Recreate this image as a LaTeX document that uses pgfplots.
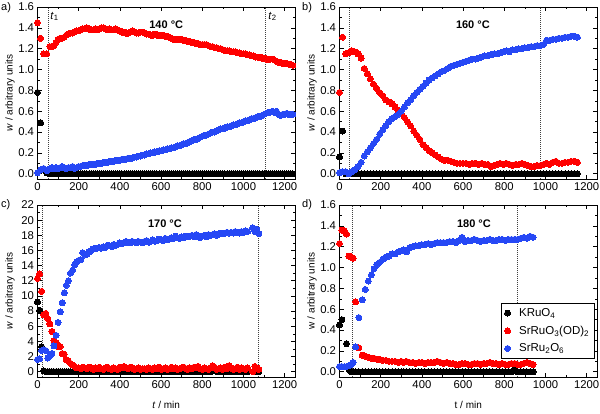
\documentclass[border=0pt]{standalone}
\usepackage{pgfplots}
\pgfplotsset{compat=1.18}
\usepackage{pgfplotstable}
\usepackage{fontspec}
\setmainfont{Liberation Sans}
\definecolor{myred}{RGB}{255,0,0}
\definecolor{myblue}{RGB}{38,72,245}

\pgfplotstableread{
t k r b
0 0.78 1.45 0.01
15 0.49 1.30 0.04
30 0.05 1.15 0.05
45 0.01 1.15 0.03
60 0.00 1.22 0.05
70 0.00 1.22 0.06
80 0.00 1.23 0.05
90 0.00 1.26 0.06
100 0.00 1.29 0.05
110 0.00 1.30 0.06
120 0.00 1.30 0.07
130 0.00 1.31 0.06
140 0.00 1.33 0.05
150 0.00 1.34 0.06
160 0.00 1.35 0.06
170 0.00 1.35 0.07
180 0.00 1.36 0.05
190 0.00 1.37 0.06
200 0.00 1.37 0.07
210 0.00 1.38 0.07
220 0.00 1.39 0.08
230 0.00 1.39 0.08
240 0.00 1.40 0.08
250 0.00 1.39 0.09
260 0.00 1.38 0.09
270 0.00 1.38 0.09
280 0.00 1.39 0.09
290 0.00 1.38 0.10
300 0.00 1.39 0.10
310 0.00 1.40 0.10
320 0.00 1.40 0.11
330 0.00 1.39 0.11
340 0.00 1.38 0.11
350 0.00 1.39 0.12
360 0.00 1.38 0.12
370 0.00 1.38 0.12
380 0.00 1.39 0.13
390 0.00 1.38 0.13
400 0.00 1.37 0.13
410 0.00 1.36 0.14
420 0.00 1.36 0.14
430 0.00 1.35 0.14
440 0.00 1.35 0.15
450 0.00 1.36 0.15
460 0.00 1.37 0.15
470 0.00 1.36 0.16
480 0.00 1.35 0.16
490 0.00 1.35 0.17
500 0.00 1.36 0.17
510 0.00 1.36 0.18
520 0.00 1.35 0.18
530 0.00 1.34 0.19
540 0.00 1.34 0.19
550 0.00 1.33 0.20
560 0.00 1.33 0.20
570 0.00 1.34 0.21
580 0.00 1.33 0.21
590 0.00 1.33 0.22
600 0.00 1.33 0.22
610 0.00 1.33 0.23
620 0.00 1.32 0.23
630 0.00 1.32 0.24
640 0.00 1.31 0.24
650 0.00 1.30 0.25
660 0.00 1.29 0.25
670 0.00 1.29 0.26
680 0.00 1.29 0.27
690 0.00 1.29 0.27
700 0.00 1.29 0.28
710 0.00 1.28 0.29
720 0.00 1.28 0.29
730 0.00 1.27 0.30
740 0.00 1.27 0.31
750 0.00 1.26 0.32
760 0.00 1.26 0.33
770 0.00 1.25 0.33
780 0.00 1.25 0.34
790 0.00 1.24 0.35
800 0.00 1.24 0.36
810 0.00 1.24 0.37
820 0.00 1.24 0.37
830 0.00 1.23 0.38
840 0.00 1.22 0.39
850 0.00 1.22 0.40
860 0.00 1.21 0.40
870 0.00 1.21 0.41
880 0.00 1.20 0.42
890 0.00 1.20 0.43
900 0.00 1.19 0.43
910 0.00 1.18 0.44
920 0.00 1.18 0.45
930 0.00 1.18 0.45
940 0.00 1.17 0.46
950 0.00 1.17 0.47
960 0.00 1.17 0.47
970 0.00 1.16 0.48
980 0.00 1.16 0.49
990 0.00 1.15 0.49
1000 0.00 1.15 0.50
1010 0.00 1.15 0.51
1020 0.00 1.14 0.51
1030 0.00 1.14 0.52
1040 0.00 1.13 0.53
1050 0.00 1.13 0.53
1060 0.00 1.12 0.54
1070 0.00 1.12 0.55
1080 0.00 1.12 0.55
1090 0.00 1.11 0.56
1100 0.00 1.11 0.57
1110 0.00 1.10 0.58
1120 0.00 1.10 0.59
1130 0.00 1.10 0.59
1140 0.00 1.10 0.60
1150 0.00 1.09 0.59
1160 0.00 1.08 0.60
1170 0.00 1.07 0.57
1180 0.00 1.07 0.56
1190 0.00 1.06 0.57
1200 0.00 1.06 0.57
1210 0.00 1.06 0.58
1220 0.00 1.05 0.57
1230 0.00 1.05 0.57
1240 0.00 1.04 0.57
}\tA

\pgfplotstableread{
t k r b
0 0.16 0.78 0.01
15 0.41 1.31 0.02
30 0.00 1.15 0.02
45 0.00 1.16 0.00
60 0.00 1.18 0.02
75 0.00 1.17 0.04
90 0.00 1.15 0.07
105 0.00 1.11 0.11
120 0.00 1.01 0.17
135 0.00 0.96 0.21
150 0.00 0.91 0.25
165 0.00 0.86 0.29
180 0.00 0.82 0.33
195 0.00 0.78 0.38
210 0.00 0.75 0.42
225 0.00 0.71 0.46
240 0.00 0.69 0.50
255 0.00 0.67 0.53
270 0.00 0.64 0.55
285 0.00 0.61 0.57
300 0.00 0.58 0.60
315 0.00 0.54 0.64
330 0.00 0.50 0.68
345 0.00 0.46 0.71
360 0.00 0.41 0.75
375 0.00 0.37 0.78
390 0.00 0.33 0.81
405 0.00 0.28 0.84
420 0.00 0.25 0.87
435 0.00 0.22 0.90
450 0.00 0.20 0.92
465 0.00 0.18 0.94
480 0.00 0.16 0.96
495 0.00 0.14 0.98
510 0.00 0.13 0.99
525 0.00 0.13 1.01
540 0.00 0.12 1.03
555 0.00 0.11 1.04
570 0.00 0.10 1.05
585 0.00 0.10 1.06
600 0.00 0.10 1.07
615 0.00 0.10 1.08
630 0.00 0.09 1.09
645 0.00 0.10 1.10
660 0.00 0.10 1.10
675 0.00 0.09 1.11
690 0.00 0.10 1.12
705 0.00 0.09 1.13
720 0.00 0.09 1.13
735 0.00 0.07 1.14
750 0.00 0.08 1.15
765 0.00 0.09 1.15
780 0.00 0.10 1.16
795 0.00 0.09 1.17
810 0.00 0.10 1.18
825 0.00 0.09 1.17
840 0.00 0.08 1.19
855 0.00 0.09 1.19
870 0.00 0.09 1.20
885 0.00 0.10 1.20
900 0.00 0.09 1.21
915 0.00 0.08 1.21
930 0.00 0.07 1.22
945 0.00 0.07 1.22
960 0.00 0.08 1.23
975 0.00 0.08 1.23
990 0.00 0.09 1.24
1005 0.00 0.10 1.28
1020 0.00 0.09 1.28
1035 0.00 0.11 1.29
1050 0.00 0.12 1.29
1065 0.00 0.10 1.30
1080 0.00 0.10 1.30
1095 0.00 0.11 1.31
1110 0.00 0.11 1.31
1125 0.00 0.12 1.32
1140 0.00 0.12 1.32
1155 0.00 0.11 1.31
}\tB

\pgfplotstableread{
t k r b
0 9.2 12.3 1.6
10 8.1 12.9 1.7
20 3.3 10.6 2.8
30 0.1 7.5 2.9
40 0.0 7.7 2.8
50 0.0 7.0 1.8
60 0.0 6.3 2.1
70 0.0 5.3 2.4
80 0.0 4.1 3.4
90 0.0 3.8 4.8
100 0.0 3.3 6.5
110 0.0 3.3 7.9
120 0.0 2.4 9.1
130 0.0 2.3 10.4
140 0.0 1.6 11.4
150 0.0 1.4 12.0
160 0.0 1.1 13.0
170 0.0 0.9 13.4
180 0.0 0.7 14.1
190 0.0 0.5 14.5
200 0.0 0.5 14.7
210 0.0 0.4 14.8
220 0.0 0.6 15.7
230 0.0 0.5 15.4
240 0.0 0.4 15.5
250 0.0 0.6 15.8
260 0.0 0.5 16.0
270 0.0 0.3 16.2
280 0.0 0.5 16.3
290 0.0 0.4 16.3
300 0.0 0.6 16.4
310 0.0 0.4 16.3
320 0.0 0.3 16.5
330 0.0 0.5 16.4
340 0.0 0.6 16.7
350 0.0 0.4 16.6
360 0.0 0.3 16.5
370 0.0 0.5 16.8
380 0.0 0.4 16.7
390 0.0 0.3 16.8
400 0.1 0.6 17.0
410 0.0 0.5 16.9
420 0.0 0.7 17.0
430 0.0 0.5 17.2
440 0.0 0.4 17.1
450 0.1 0.6 17.0
460 0.0 0.5 17.2
470 0.0 0.3 17.1
480 0.0 0.4 17.0
490 0.0 0.5 17.2
500 0.0 0.3 17.1
510 0.0 0.4 17.0
520 0.0 0.4 17.2
530 0.0 0.3 17.3
540 0.0 0.5 17.1
550 0.0 0.4 17.2
560 0.0 0.3 17.4
570 0.0 0.5 17.2
580 0.0 0.4 17.3
590 0.0 0.6 17.5
600 0.0 0.3 17.4
610 0.0 0.4 17.3
620 0.0 0.5 17.6
630 0.0 0.3 17.4
640 0.0 0.4 17.5
650 0.0 0.6 17.7
660 0.0 0.4 17.6
670 0.0 0.5 17.9
680 0.0 0.3 17.7
690 0.0 0.4 17.6
700 0.0 0.5 17.8
710 0.0 0.6 17.7
720 0.0 0.4 17.9
730 0.0 0.3 17.8
740 0.0 0.5 17.9
750 0.0 0.4 18.0
760 0.0 0.6 17.8
770 0.0 0.5 18.1
780 0.1 0.7 17.9
790 0.0 0.4 17.7
800 0.0 0.3 17.9
810 0.0 0.5 18.0
820 0.0 0.4 17.8
830 0.0 0.3 18.1
840 0.0 0.5 18.0
850 0.1 0.8 18.1
860 0.2 0.6 18.2
870 0.0 0.3 18.0
880 0.0 0.4 18.2
890 0.0 0.5 18.3
900 0.0 0.3 18.2
910 0.0 0.6 18.3
920 0.0 0.4 18.4
930 0.0 0.8 18.3
940 0.0 0.5 18.4
950 0.0 0.3 18.3
960 0.0 0.4 18.5
970 0.0 0.6 18.4
980 0.0 0.3 18.3
990 0.0 0.5 18.5
1000 0.0 0.4 18.4
1010 0.0 0.3 18.6
1020 0.0 0.5 18.5
1045 0.0 0.0 19.0
1055 0.0 0.7 18.5
1065 0.0 0.5 18.8
1075 0.0 0.3 18.2
}\tC

\pgfplotstableread{
t k r b
0 0.45 1.23 0.05
12 0.50 1.36 0.05
24 nan 1.35 0.05
34 0.27 1.32 0.05
46 0.02 1.11 0.06
56 0.00 1.10 0.07
66 0.00 1.09 0.09
78 0.00 0.67 0.24
94 0.00 0.23 0.52
110 0.00 0.16 0.69
125 0.00 0.15 0.79
140 0.00 0.14 0.87
155 0.00 0.13 0.93
168 0.00 0.13 0.99
182 0.00 0.12 1.03
195 0.00 0.12 1.05
210 0.00 0.11 1.08
225 0.00 0.11 1.10
240 0.00 0.10 1.11
255 0.00 0.10 1.13
270 0.00 0.10 1.13
285 0.00 0.09 1.15
300 0.00 0.10 1.16
312 0.00 0.09 1.17
325 0.00 0.10 1.15
340 0.00 0.09 1.19
355 0.00 0.09 1.20
370 0.00 0.08 1.21
385 0.00 0.09 1.21
400 0.00 0.09 1.22
415 0.00 0.08 1.22
430 0.00 0.09 1.23
445 0.00 0.09 1.22
460 0.00 0.09 1.23
475 0.00 0.10 1.24
490 0.00 0.09 1.24
505 0.00 0.08 1.24
520 0.00 0.09 1.24
535 0.00 0.08 1.25
550 0.00 0.08 1.25
565 0.00 0.07 1.24
580 0.00 0.07 1.26
595 0.00 0.08 1.29
610 0.00 0.08 1.25
625 0.00 0.07 1.26
640 0.00 0.07 1.26
655 0.00 0.08 1.27
670 0.00 0.08 1.26
685 0.00 0.07 1.25
700 0.00 0.08 1.26
715 0.00 0.08 1.26
730 0.00 0.09 1.27
745 0.00 0.08 1.26
760 0.00 0.08 1.26
775 0.00 0.07 1.27
790 0.00 0.08 1.27
805 0.00 0.07 1.26
820 0.00 0.07 1.27
835 0.00 0.08 1.27
850 0.02 0.08 1.27
865 0.00 0.07 1.27
880 0.00 0.07 1.28
895 0.00 0.08 1.29
910 0.00 0.09 1.28
925 0.00 0.08 1.30
940 0.00 0.07 1.29
}\tD

\pgfplotsset{
  panel/.style={
    scale only axis, width=257.5pt, height=172pt,
    xmin=0, xmax=1250,
    xtick={0,200,400,600,800,1000,1200},
    minor x tick num=1,
    tick align=inside, xtick pos=both, ytick pos=both,
    major tick length=4pt, minor tick length=2.2pt,
    every tick/.style={black, line width=0.6pt},
    axis line style={line width=0.8pt},
    tick label style={font=\fontsize{11.3}{13}\selectfont},
    label style={font=\fontsize{11.5}{13}\selectfont},
    /pgf/number format/assume math mode=true,
    /pgf/number format/1000 sep={},
    every axis y label/.style={at={(axis description cs:-0.107,0.5)}, rotate=90, anchor=center},
    every axis x label/.style={at={(axis description cs:0.5,-0.163)}, anchor=center},
    ylabel={\textit{w} / arbitrary units},
    clip=true,
  },
  small/.style={
    ymin=-0.05, ymax=1.6,
    ytick={0,0.2,0.4,0.6,0.8,1.0,1.2,1.4,1.6},
    minor y tick num=1,
    yticklabel style={/pgf/number format/.cd, fixed, fixed zerofill, precision=1},
  },
  dotleg/.style={legend image code/.code={\path[draw=none,fill=none] (0pt,-3pt) rectangle (13pt,3pt); \draw[##1] plot coordinates {(3.5pt,0pt)};}},
  kser/.style={only marks, mark=*, mark size=3pt, color=black, mark options={fill=black, draw=black, line width=0pt}, dotleg},
  rser/.style={only marks, mark=*, mark size=3pt, color=myred, mark options={fill=myred, draw=myred, line width=0pt}, dotleg},
  bser/.style={only marks, mark=*, mark size=3pt, color=myblue, mark options={fill=myblue, draw=myblue, line width=0pt}, dotleg},
  vline/.style={black!75, line width=0.6pt, dash pattern=on 0.7pt off 1.3pt, forget plot},
}

\begin{document}
\begin{tikzpicture}[x=1pt,y=1pt]
\path[use as bounding box] (0,0) rectangle (600,413);

% a
\begin{axis}[panel, small, at={(37.5pt,234pt)}, anchor=south west]
\addplot[vline] coordinates {(50,-0.05) (50,1.6)};
\addplot[vline] coordinates {(1106,-0.05) (1106,1.6)};
\addplot[kser] table[x=t,y=k]{\tA};
\addplot[rser] table[x=t,y=r]{\tA};
\addplot[bser] table[x=t,y=b]{\tA};
\node[font=\fontsize{11}{13}\selectfont\bfseries] at (rel axis cs:0.5,0.895) {140 °C};
\node[anchor=west, font=\fontsize{11}{13}\selectfont, inner sep=0pt] at (axis cs:62,1.51) {\textit{t}\textsubscript{1}};
\node[anchor=west, font=\fontsize{11}{13}\selectfont, inner sep=0pt] at (axis cs:1120,1.51) {\textit{t}\textsubscript{2}};
\end{axis}

% b
\begin{axis}[panel, small, at={(339.5pt,234pt)}, anchor=south west]
\addplot[vline] coordinates {(46,-0.05) (46,1.6)};
\addplot[vline] coordinates {(977,-0.05) (977,1.6)};
\addplot[kser] table[x=t,y=k]{\tB};
\addplot[rser] table[x=t,y=r]{\tB};
\addplot[bser] table[x=t,y=b]{\tB};
\node[font=\fontsize{11}{13}\selectfont\bfseries] at (rel axis cs:0.518,0.895) {160 °C};
\end{axis}

% c
\begin{axis}[panel, at={(37.5pt,36pt)}, anchor=south west,
  ymin=-0.7, ymax=22, ytick={0,2,4,6,8,10,12,14,16,18,20,22}, minor y tick num=1,
  xlabel={\textit{t} / min}]
\addplot[vline] coordinates {(21,-0.7) (21,22)};
\addplot[vline] coordinates {(1070,-0.7) (1070,22)};
\addplot[kser] table[x=t,y=k]{\tC};
\addplot[rser] table[x=t,y=r]{\tC};
\addplot[bser] table[x=t,y=b]{\tC};
\node[font=\fontsize{11}{13}\selectfont\bfseries] at (rel axis cs:0.495,0.894) {170 °C};
\end{axis}

% d
\begin{axis}[panel, small, at={(339.5pt,36pt)}, anchor=south west,
  xlabel={t / min}, ylabel={w / arbitrary units},
  legend style={at={(0.99,0.43)}, anchor=north east, draw=black, line width=0.6pt,
    font=\fontsize{11.5}{13}\selectfont, row sep=4pt, inner xsep=3pt, inner ysep=3pt},
  legend cell align=left]
\addplot[vline] coordinates {(62,-0.05) (62,1.6)};
\addplot[vline] coordinates {(862,-0.05) (862,1.6)};
\addplot[kser] table[x=t,y=k]{\tD};
\addlegendentry{KRuO\textsubscript{4}}
\addplot[rser] table[x=t,y=r]{\tD};
\addlegendentry{SrRuO\textsubscript{3}(OD)\textsubscript{2}}
\addplot[bser] table[x=t,y=b]{\tD};
\addlegendentry{SrRu\textsubscript{2}O\textsubscript{6}}
\node[font=\fontsize{11}{13}\selectfont\bfseries] at (rel axis cs:0.522,0.894) {180 °C};
\end{axis}

\node[anchor=north west, inner sep=0pt, font=\fontsize{11}{13}\selectfont] at (1,411) {a)};
\node[anchor=north west, inner sep=0pt, font=\fontsize{11}{13}\selectfont] at (302,411) {b)};
\node[anchor=north west, inner sep=0pt, font=\fontsize{11}{13}\selectfont] at (1,214) {c)};
\node[anchor=north west, inner sep=0pt, font=\fontsize{11}{13}\selectfont] at (302,214) {d)};
\end{tikzpicture}
\end{document}
